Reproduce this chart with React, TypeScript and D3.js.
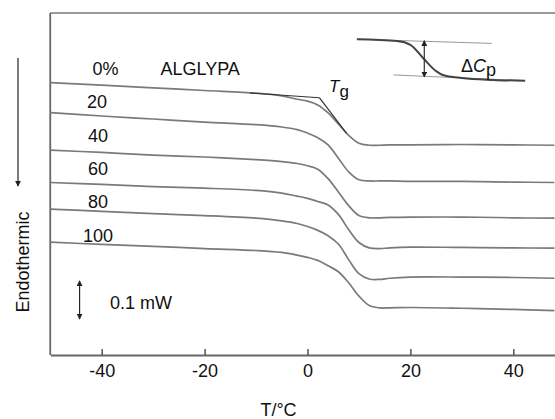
import React, { useEffect, useRef } from "react";
import * as d3 from "d3";

// temperatures (°C) where each DSC trace was read
const temps = [-50, -40, -30, -20, -10, -5, -2, 0, 2, 4, 6, 8, 10, 12, 14, 16, 20, 30, 40, 48];

// heat flow (mW, arbitrary offset), one array per ALGLYPA content
const flow0 = [0.717, 0.71, 0.703, 0.696, 0.689, 0.682, 0.673, 0.668, 0.658, 0.637, 0.608, 0.578, 0.557, 0.552, 0.552, 0.553, 0.553, 0.554, 0.553, 0.552];
const flow20 = [0.638, 0.629, 0.621, 0.613, 0.606, 0.6, 0.593, 0.584, 0.572, 0.553, 0.518, 0.482, 0.461, 0.458, 0.458, 0.458, 0.457, 0.457, 0.455, 0.454];
const flow40 = [0.539, 0.533, 0.526, 0.521, 0.514, 0.509, 0.504, 0.498, 0.489, 0.464, 0.429, 0.393, 0.367, 0.361, 0.361, 0.362, 0.363, 0.363, 0.361, 0.36];
const flow60 = [0.454, 0.449, 0.443, 0.439, 0.433, 0.426, 0.418, 0.412, 0.404, 0.395, 0.37, 0.33, 0.296, 0.282, 0.28, 0.282, 0.284, 0.283, 0.282, 0.281];
const flow80 = [0.384, 0.378, 0.372, 0.367, 0.36, 0.353, 0.346, 0.338, 0.328, 0.314, 0.292, 0.251, 0.214, 0.2, 0.199, 0.202, 0.205, 0.205, 0.204, 0.202];
const flow100 = [0.297, 0.291, 0.286, 0.28, 0.275, 0.27, 0.263, 0.257, 0.249, 0.235, 0.219, 0.19, 0.155, 0.13, 0.124, 0.124, 0.125, 0.123, 0.12, 0.117];

const seriesLabels = ["0%", "20", "40", "60", "80", "100"];
const xTicks = [-40, -20, 0, 20, 40];

// Tg construction on the 0% trace
const tgBaseT = [-11.2, 2.3];
const tgBaseV = [0.6895, 0.6771];
const tgSteepT = [2.3, 7.6];
const tgSteepV = [0.6771, 0.5834];

// schematic ΔCp inset
const insetT = [9.6, 17.4, 20, 22.5, 25, 26.3, 30, 36, 42.3];
const insetV = [0.831, 0.826, 0.816, 0.781, 0.747, 0.737, 0.729, 0.724, 0.722];
const insetUpperT = [9.6, 35.8];
const insetUpperV = [0.831, 0.82];
const insetLowerT = [16.7, 42.3];
const insetLowerV = [0.737, 0.722];
const insetArrowT = 22.7;
const insetArrowV = [0.827, 0.732];

// 0.1 mW scale bar
const scaleBarT = -44.3;
const scaleBarV = [0.195, 0.095];

export default function App() {
  const ref = useRef<SVGSVGElement>(null);

  useEffect(() => {
    const font = "'Liberation Sans', Arial, Helvetica, sans-serif";
    const x = d3.scaleLinear().domain([-50, 50]).range([50.25, 564.75]);
    const y = d3.scaleLinear().domain([0, 0.9]).range([355, 13]);

    const svg = d3.select(ref.current);
    svg.selectAll("*").remove();

    const defs = svg.append("defs");
    defs
      .append("marker")
      .attr("id", "head")
      .attr("viewBox", "0 0 8 8")
      .attr("refX", 7)
      .attr("refY", 4)
      .attr("markerWidth", 6)
      .attr("markerHeight", 6)
      .attr("markerUnits", "userSpaceOnUse")
      .attr("orient", "auto-start-reverse")
      .append("path")
      .attr("d", "M0,0 L8,4 L0,8 z")
      .attr("fill", "#222");

    // frame
    svg.append("line")
      .attr("x1", x(-50)).attr("x2", x(50))
      .attr("y1", y(0.9)).attr("y2", y(0.9))
      .attr("stroke", "#777").attr("stroke-width", 1.6);
    svg.append("line")
      .attr("x1", x(-50)).attr("x2", x(-50))
      .attr("y1", y(0.9)).attr("y2", y(0))
      .attr("stroke", "#666").attr("stroke-width", 1.8);

    const xAxis = svg
      .append("g")
      .attr("transform", `translate(0,${y(0)})`)
      .call(
        d3.axisBottom(x)
          .tickValues(xTicks)
          .tickSizeInner(-6)
          .tickSizeOuter(0)
          .tickPadding(9)
          .tickFormat((d) => String(d))
      );
    xAxis.select(".domain").attr("stroke", "#666").attr("stroke-width", 1.8);
    xAxis.selectAll(".tick line").attr("stroke", "#555").attr("stroke-width", 1.5);
    xAxis.selectAll(".tick text")
      .attr("font-family", font)
      .attr("font-size", 18)
      .attr("fill", "#111");

    svg.append("text")
      .attr("x", 278.5).attr("y", 416)
      .attr("text-anchor", "middle")
      .attr("font-family", font).attr("font-size", 18).attr("fill", "#111")
      .text("T/°C");

    svg.append("text")
      .attr("transform", "translate(29,262) rotate(-90)")
      .attr("text-anchor", "middle")
      .attr("font-family", font).attr("font-size", 18).attr("fill", "#111")
      .text("Endothermic");

    svg.append("line")
      .attr("x1", 18).attr("x2", 18).attr("y1", 58).attr("y2", 186)
      .attr("stroke", "#222").attr("stroke-width", 1.2)
      .attr("marker-end", "url(#head)");

    // traces
    const line = d3
      .line<number>()
      .x((_, i) => x(temps[i]))
      .y((d) => y(d))
      .curve(d3.curveCatmullRom.alpha(0.5));

    const allSeries = [flow0, flow20, flow40, flow60, flow80, flow100];
    svg.append("g")
      .selectAll("path")
      .data(allSeries)
      .enter()
      .append("path")
      .attr("d", (d) => line(d))
      .attr("fill", "none")
      .attr("stroke", "#7a7a7a")
      .attr("stroke-width", 1.7);

    const labelPos = [
      [92.5, 75],
      [87, 107.7],
      [88, 141.7],
      [88, 175],
      [88, 208.3],
      [83, 241.7],
    ];
    svg.append("g")
      .selectAll("text")
      .data(seriesLabels)
      .enter()
      .append("text")
      .attr("x", (_, i) => labelPos[i][0])
      .attr("y", (_, i) => labelPos[i][1])
      .attr("font-family", font).attr("font-size", 18).attr("fill", "#111")
      .text((d) => d);

    svg.append("text")
      .attr("x", 160.5).attr("y", 75)
      .attr("font-family", font).attr("font-size", 18).attr("fill", "#111")
      .text("ALGLYPA");

    // Tg tangents
    const seg = (ts: number[], vs: number[]) =>
      d3.line<number>().x((t) => x(t)).y((_, i) => y(vs[i]))(ts);
    svg.append("path").attr("d", seg(tgBaseT, tgBaseV))
      .attr("fill", "none").attr("stroke", "#333").attr("stroke-width", 1.1);
    svg.append("path").attr("d", seg(tgSteepT, tgSteepV))
      .attr("fill", "none").attr("stroke", "#333").attr("stroke-width", 1.2);

    const tg = svg.append("text")
      .attr("x", 329).attr("y", 92)
      .attr("font-family", font).attr("font-size", 17).attr("fill", "#111");
    tg.append("tspan").attr("font-style", "italic").text("T");
    tg.append("tspan").attr("dy", 5).text("g");

    // ΔCp inset
    const insetLine = d3
      .line<number>()
      .x((_, i) => x(insetT[i]))
      .y((d) => y(d))
      .curve(d3.curveMonotoneX);
    svg.append("path").attr("d", seg(insetUpperT, insetUpperV))
      .attr("fill", "none").attr("stroke", "#999").attr("stroke-width", 1);
    svg.append("path").attr("d", seg(insetLowerT, insetLowerV))
      .attr("fill", "none").attr("stroke", "#999").attr("stroke-width", 1);
    svg.append("path").attr("d", insetLine(insetV))
      .attr("fill", "none").attr("stroke", "#444").attr("stroke-width", 2);
    svg.append("line")
      .attr("x1", x(insetArrowT)).attr("x2", x(insetArrowT))
      .attr("y1", y(insetArrowV[0])).attr("y2", y(insetArrowV[1]))
      .attr("stroke", "#333").attr("stroke-width", 1.2)
      .attr("marker-start", "url(#head)")
      .attr("marker-end", "url(#head)");

    const dcp = svg.append("text")
      .attr("x", 461).attr("y", 72)
      .attr("font-family", font).attr("font-size", 18).attr("fill", "#111");
    dcp.append("tspan").text("Δ");
    dcp.append("tspan").attr("font-style", "italic").text("C");
    dcp.append("tspan").attr("dy", 4).text("p");

    // scale bar
    svg.append("line")
      .attr("x1", x(scaleBarT)).attr("x2", x(scaleBarT))
      .attr("y1", y(scaleBarV[0])).attr("y2", y(scaleBarV[1]))
      .attr("stroke", "#222").attr("stroke-width", 1.2)
      .attr("marker-start", "url(#head)")
      .attr("marker-end", "url(#head)");
    svg.append("text")
      .attr("x", 110).attr("y", 309)
      .attr("font-family", font).attr("font-size", 18).attr("fill", "#111")
      .text("0.1 mW");
  }, []);

  return (
    <svg
      ref={ref}
      width={555}
      height={419}
      style={{ position: "absolute", left: 0, top: 0, background: "#fff" }}
    />
  );
}
